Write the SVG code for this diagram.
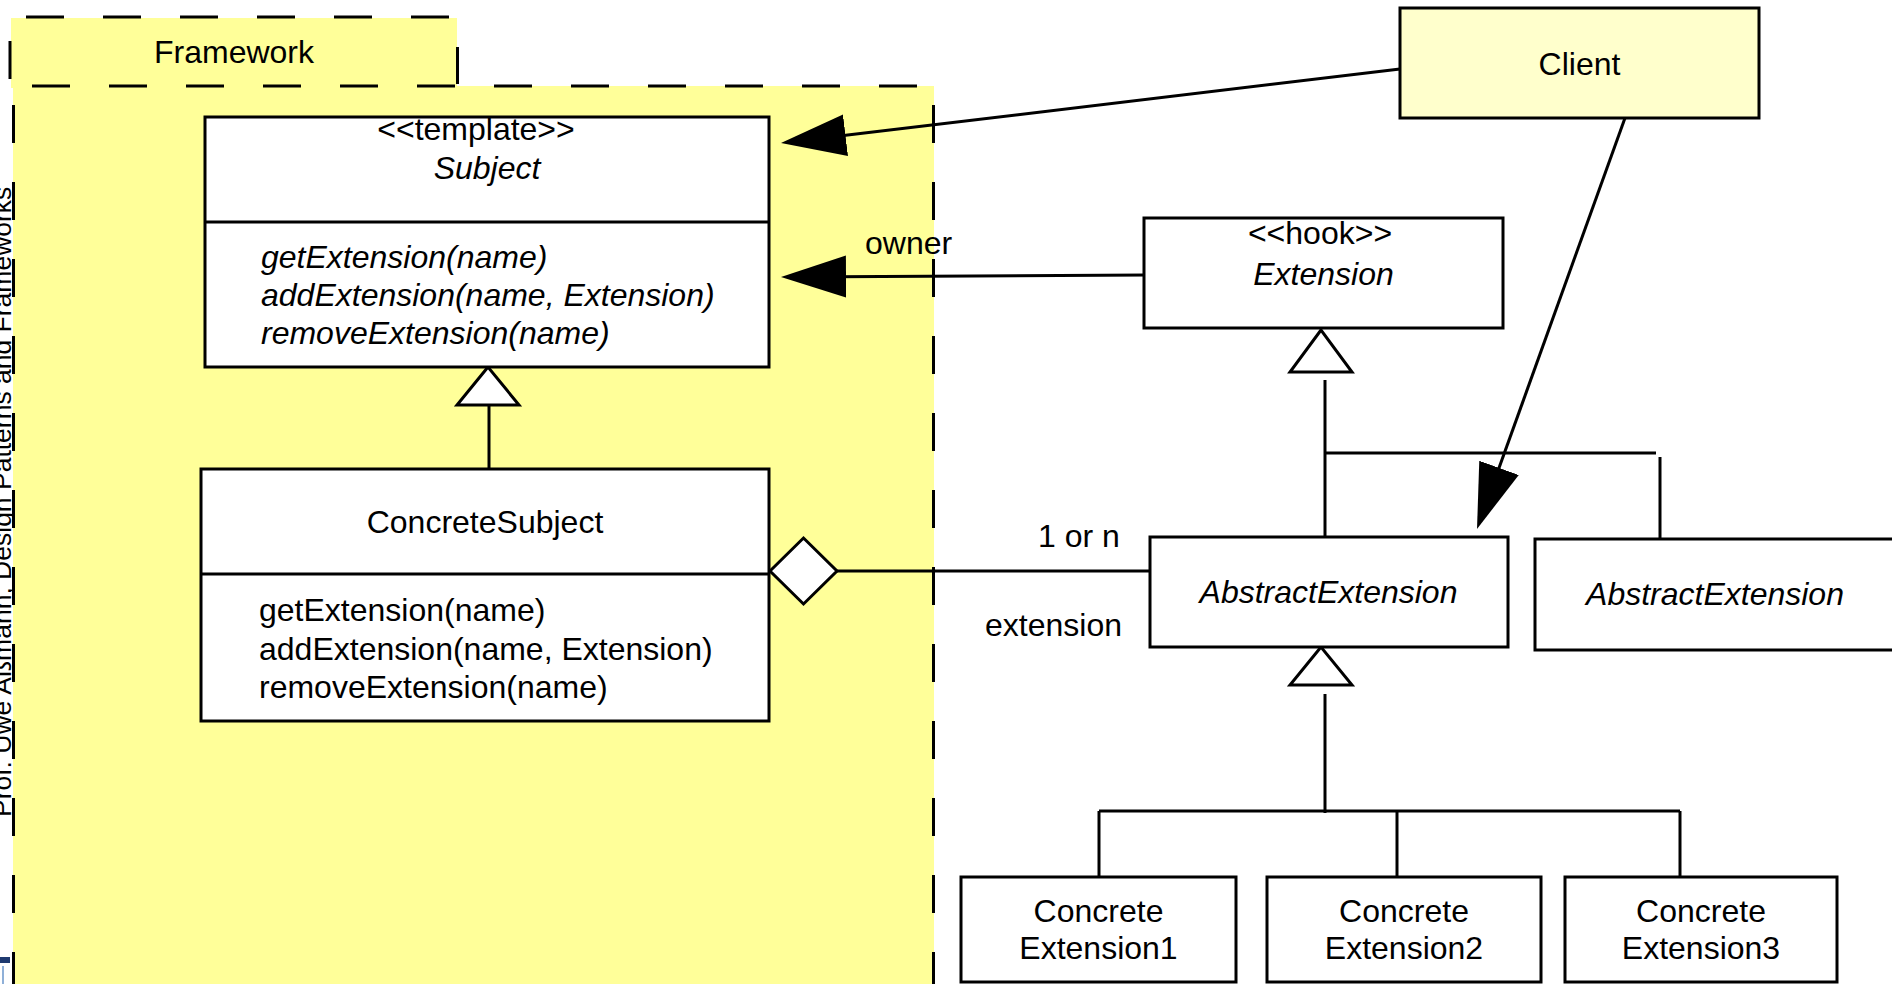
<svg xmlns="http://www.w3.org/2000/svg" width="1892" height="984" viewBox="0 0 1892 984">
<style>
text{font-family:"Liberation Sans",Arial,sans-serif;font-size:32px;fill:#000}
.c{text-anchor:middle}
.i{font-style:italic}
.box{fill:#fff;stroke:#000;stroke-width:3}
.ln{fill:none;stroke:#000;stroke-width:3}
.dash{fill:none;stroke:#000;stroke-width:3;stroke-dasharray:38 39}
.tri{fill:#fff;stroke:#000;stroke-width:3;stroke-linejoin:miter}
</style>
<defs>
<marker id="arr" markerUnits="userSpaceOnUse" markerWidth="66" markerHeight="44" viewBox="0 0 66 44" refX="55" refY="22" orient="auto">
<path d="M0,1 L65,22 L0,43 Z" fill="#000"/>
</marker>
</defs>
<rect width="1892" height="984" fill="#fff"/>
<g id="side-label">
<text transform="translate(11,817) rotate(-90)" style="font-size:26.5px">Prof. Uwe Aßmann, Design Patterns and Frameworks</text>
<path d="M0,957 H10 V963 H0 Z" fill="#1f3a70"/>
<path d="M3,966 V984" stroke="#8fb0d8" stroke-width="2"/>
</g>
<g id="framework">
<rect x="11" y="18" width="446" height="70" fill="#ffff99"/>
<rect x="13" y="86" width="921" height="900" fill="#ffff99"/>
<line class="dash" x1="26" y1="17" x2="457" y2="17"/>
<line class="ln" x1="10" y1="41" x2="10" y2="79"/>
<line class="ln" x1="457.5" y1="47" x2="457.5" y2="84"/>
<line class="dash" x1="32" y1="86" x2="934" y2="86"/>
<line class="dash" x1="13.5" y1="105" x2="13.5" y2="990"/>
<line class="dash" x1="933.5" y1="105" x2="933.5" y2="990"/>
<text class="c" x="234" y="63">Framework</text>
</g>
<g id="connectors">
<line class="ln" x1="1400" y1="69" x2="790.9" y2="141.8" marker-end="url(#arr)"/>
<line class="ln" x1="1146" y1="275" x2="791" y2="276.9" marker-end="url(#arr)"/>
<line class="ln" x1="1625" y1="118" x2="1480.4" y2="519.6" marker-end="url(#arr)"/>
<line class="ln" x1="489" y1="405" x2="489" y2="469"/>
<polygon class="tri" points="488,367 457,405 519,405"/>
<polygon class="tri" points="770,571 803.5,538 837,571 803.5,604"/>
<line class="ln" x1="837" y1="571" x2="1151" y2="571"/>
<polygon class="tri" points="1321,330 1290,372 1352,372"/>
<line class="ln" x1="1325" y1="380" x2="1325" y2="537"/>
<line class="ln" x1="1325" y1="453" x2="1656" y2="453"/>
<line class="ln" x1="1660" y1="457" x2="1660" y2="539"/>
<polygon class="tri" points="1321,647 1290,685 1352,685"/>
<line class="ln" x1="1325" y1="694" x2="1325" y2="813"/>
<line class="ln" x1="1099" y1="811" x2="1680" y2="811"/>
<line class="ln" x1="1099" y1="811" x2="1099" y2="877"/>
<line class="ln" x1="1397" y1="811" x2="1397" y2="877"/>
<line class="ln" x1="1680" y1="811" x2="1680" y2="877"/>
<text x="865" y="254">owner</text>
<text x="1038" y="547">1 or n</text>
<text x="985" y="636">extension</text>
</g>
<g id="subject">
<rect class="box" x="205" y="117" width="564" height="250"/>
<line class="ln" x1="205" y1="222" x2="769" y2="222"/>
<text class="c" x="476" y="140">&lt;&lt;template&gt;&gt;</text>
<text class="c i" x="487" y="179">Subject</text>
<text class="i" x="261" y="268">getExtension(name)</text>
<text class="i" x="261" y="306">addExtension(name, Extension)</text>
<text class="i" x="261" y="344">removeExtension(name)</text>
</g>
<g id="concreteSubject">
<rect class="box" x="201" y="469" width="568" height="252"/>
<line class="ln" x1="201" y1="574" x2="769" y2="574"/>
<text class="c" x="485" y="533">ConcreteSubject</text>
<text x="259" y="621">getExtension(name)</text>
<text x="259" y="660">addExtension(name, Extension)</text>
<text x="259" y="698">removeExtension(name)</text>
</g>
<g id="client">
<rect x="1400" y="8" width="359" height="110" fill="#ffffcc" stroke="#000" stroke-width="3"/>
<text class="c" x="1579.5" y="75">Client</text>
</g>
<g id="extension">
<rect class="box" x="1144" y="218" width="359" height="110"/>
<text class="c" x="1320" y="244">&lt;&lt;hook&gt;&gt;</text>
<text class="c i" x="1323.5" y="285">Extension</text>
</g>
<g id="abstractExtension1">
<rect class="box" x="1150" y="537" width="358" height="110"/>
<text class="c i" x="1328.5" y="603">AbstractExtension</text>
</g>
<g id="abstractExtension2">
<rect class="box" x="1535" y="539" width="370" height="111"/>
<text class="c i" x="1715" y="605">AbstractExtension</text>
</g>
<g id="concreteExtension1">
<rect class="box" x="961" y="877" width="275" height="105"/>
<text class="c" x="1098.5" y="922">Concrete</text>
<text class="c" x="1098.5" y="959">Extension1</text>
</g>
<g id="concreteExtension2">
<rect class="box" x="1267" y="877" width="274" height="105"/>
<text class="c" x="1404" y="922">Concrete</text>
<text class="c" x="1404" y="959">Extension2</text>
</g>
<g id="concreteExtension3">
<rect class="box" x="1565" y="877" width="272" height="105"/>
<text class="c" x="1701" y="922">Concrete</text>
<text class="c" x="1701" y="959">Extension3</text>
</g>
</svg>
